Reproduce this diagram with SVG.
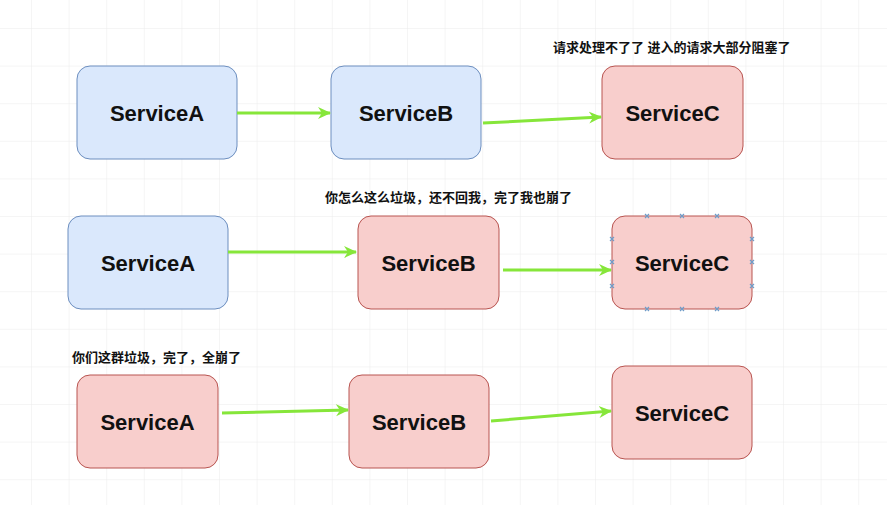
<svg xmlns="http://www.w3.org/2000/svg" width="887" height="505" viewBox="0 0 887 505">
<defs>
<pattern id="grid" x="31" y="28" width="37.6" height="37.6" patternUnits="userSpaceOnUse">
<path d="M0,0 H37.6 M0,0 V37.6" fill="none" stroke="#ebebeb" stroke-width="1"/>
</pattern>
<marker id="arr" markerWidth="14" markerHeight="14" refX="12" refY="7" orient="auto" markerUnits="userSpaceOnUse">
<path d="M0,1 L13,7 L0,13 L4,7 Z" fill="#86e63a"/>
</marker>
<g id="xm"><path d="M-2,-2 L2,2 M-2,2 L2,-2" stroke="#6f9cc8" stroke-width="1.2" fill="none"/></g>
</defs>
<style>
.blue{fill:#dae8fc;stroke:#6c8ebf;stroke-width:1}
.red{fill:#f8cecc;stroke:#b85450;stroke-width:1}
.nt{font-family:"Liberation Sans",Arial,sans-serif;font-weight:bold;font-size:22px;fill:#111;text-anchor:middle}
.lb{font-family:"Liberation Sans","Noto Sans CJK SC",sans-serif;font-weight:bold;font-size:13px;fill:#111}
.edge{stroke:#86e63a;stroke-width:3;fill:none;marker-end:url(#arr)}
</style>
<rect width="887" height="505" fill="#ffffff"/>
<rect width="887" height="505" fill="url(#grid)"/>

<g id="labels">
<text class="lb" x="553" y="52">请求处理不了了 进入的请求大部分阻塞了</text>
<text class="lb" x="325" y="202">你怎么这么垃圾，还不回我，完了我也崩了</text>
<text class="lb" x="72" y="362">你们这群垃圾，完了，全崩了</text>
</g>

<g id="r1A"><rect class="blue" x="77" y="66" width="160" height="93" rx="13"/><text class="nt" x="157" y="121">ServiceA</text></g>
<g id="r1B"><rect class="blue" x="331" y="66" width="150" height="93" rx="13"/><text class="nt" x="406" y="121">ServiceB</text></g>
<g id="r1C"><rect class="red" x="602" y="66" width="141" height="93" rx="13"/><text class="nt" x="672.5" y="121">ServiceC</text></g>

<g id="r2A"><rect class="blue" x="68" y="216" width="160" height="93" rx="13"/><text class="nt" x="148" y="271">ServiceA</text></g>
<g id="r2B"><rect class="red" x="358" y="216" width="141" height="93" rx="13"/><text class="nt" x="428.5" y="271">ServiceB</text></g>
<g id="r2C"><rect class="red" x="612" y="216" width="140" height="93" rx="13"/><text class="nt" x="682" y="271">ServiceC</text>
<use href="#xm" x="647" y="216"/><use href="#xm" x="682" y="216"/><use href="#xm" x="717" y="216"/>
<use href="#xm" x="647" y="309"/><use href="#xm" x="682" y="309"/><use href="#xm" x="717" y="309"/>
<use href="#xm" x="612" y="239"/><use href="#xm" x="612" y="262"/><use href="#xm" x="612" y="286"/>
<use href="#xm" x="752" y="239"/><use href="#xm" x="752" y="262"/><use href="#xm" x="752" y="286"/>
</g>

<g id="r3A"><rect class="red" x="77" y="375" width="141" height="93" rx="13"/><text class="nt" x="147.5" y="430">ServiceA</text></g>
<g id="r3B"><rect class="red" x="349" y="375" width="140" height="93" rx="13"/><text class="nt" x="419" y="430">ServiceB</text></g>
<g id="r3C"><rect class="red" x="612" y="366" width="140" height="93" rx="13"/><text class="nt" x="682" y="421">ServiceC</text></g>

<g id="connectors">
<path class="edge" d="M237,113 L330,113"/>
<path class="edge" d="M483,123 L601,117"/>
<path class="edge" d="M228,252 L356,252"/>
<path class="edge" d="M503,270 L611,270"/>
<path class="edge" d="M222,413 L348,410"/>
<path class="edge" d="M491,421 L611,411"/>
</g>
</svg>
